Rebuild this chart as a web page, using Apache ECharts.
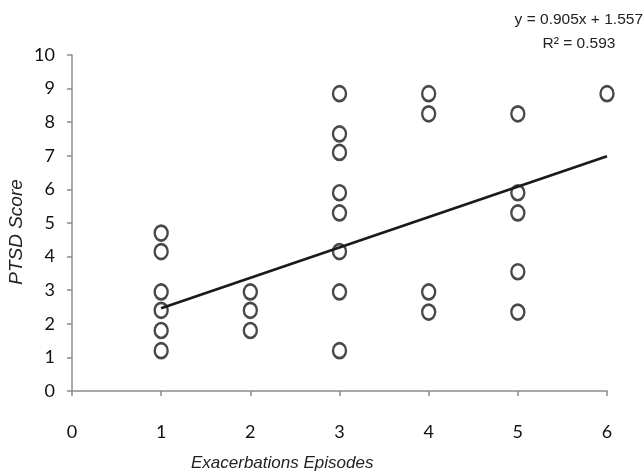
<!DOCTYPE html>
<html>
<head>
<meta charset="utf-8">
<script src="https://cdn.jsdelivr.net/npm/echarts@6/dist/echarts.min.js"></script>
<style>html,body{margin:0;padding:0;background:#fff}#c{width:644px;height:474px}</style>
</head>
<body>
<div id="c"></div>
<script>
// Data
const episodes = [1, 2, 3, 4, 5, 6];
const scoresAt1 = [4.7, 4.15, 2.95, 2.4, 1.8, 1.2];
const scoresAt2 = [2.95, 2.4, 1.8];
const scoresAt3 = [8.85, 7.65, 7.1, 5.9, 5.3, 4.15, 2.95, 1.2];
const scoresAt4 = [8.85, 8.25, 2.95, 2.35];
const scoresAt5 = [8.25, 5.9, 5.3, 3.55, 2.35];
const scoresAt6 = [8.85];
const trendSlope = 0.905;
const trendIntercept = 1.557;
const trendR2 = 0.593;
const trendRange = [1, 6];
const xTicks = [0, 1, 2, 3, 4, 5, 6];
const yTicks = [0, 1, 2, 3, 4, 5, 6, 7, 8, 9, 10];

const groups = [scoresAt1, scoresAt2, scoresAt3, scoresAt4, scoresAt5, scoresAt6];
const points = [];
groups.forEach((g, i) => g.forEach(v => points.push([episodes[i], v])));
const trend = trendRange.map(x => [x, trendSlope * x + trendIntercept]);

const chart = echarts.init(document.getElementById('c'), null, {renderer: 'canvas'});
const axisColor = '#8c8c8c';
const labelFont = {fontFamily: 'Lato, "Liberation Sans", sans-serif', fontSize: 18, color: '#111'};
chart.setOption({
  animation: false,
  backgroundColor: '#fff',
  grid: {left: 72, right: 37, top: 55, bottom: 83},
  xAxis: {
    type: 'value', min: xTicks[0], max: xTicks[xTicks.length - 1], interval: 1,
    splitLine: {show: false},
    axisLine: {show: true, onZero: false, lineStyle: {color: axisColor, width: 1.5}},
    axisTick: {show: true, length: 5, lineStyle: {color: axisColor, width: 1.5}},
    axisLabel: Object.assign({margin: 32}, labelFont)
  },
  yAxis: {
    type: 'value', min: yTicks[0], max: yTicks[yTicks.length - 1], interval: 1,
    splitLine: {show: false},
    axisLine: {show: true, onZero: false, lineStyle: {color: axisColor, width: 1.5}},
    axisTick: {show: true, length: 5, lineStyle: {color: axisColor, width: 1.5}},
    axisLabel: Object.assign({margin: 17}, labelFont)
  },
  graphic: [
    {type: 'text', left: 191, top: 455, style: {text: 'Exacerbations Episodes', font: 'italic 17px "Liberation Sans", Arial, sans-serif', fill: '#222'}},
    {type: 'text', x: 17, y: 232, rotation: Math.PI / 2, style: {text: 'PTSD Score', font: 'italic 19px "Liberation Sans", Arial, sans-serif', fill: '#222', align: 'center', verticalAlign: 'middle'}},
    {type: 'text', right: 1, top: 12, style: {text: 'y = ' + trendSlope + 'x + ' + trendIntercept, font: '15.5px "Liberation Sans", Arial, sans-serif', fill: '#222'}},
    {type: 'text', x: 579, y: 44, style: {text: 'R² = ' + trendR2, font: '15.5px "Liberation Sans", Arial, sans-serif', fill: '#222', align: 'center', verticalAlign: 'middle'}}
  ],
  series: [
    {
      type: 'line', data: trend, symbol: 'none', z: 3,
      lineStyle: {color: '#1a1a1a', width: 2.8}
    },
    {
      type: 'scatter', data: points, symbol: 'circle', symbolSize: [13, 15], z: 2,
      itemStyle: {color: 'rgba(0,0,0,0)', borderColor: '#1a1a1a', borderWidth: 2.5}
    }
  ]
});
</script>
</body>
</html>
